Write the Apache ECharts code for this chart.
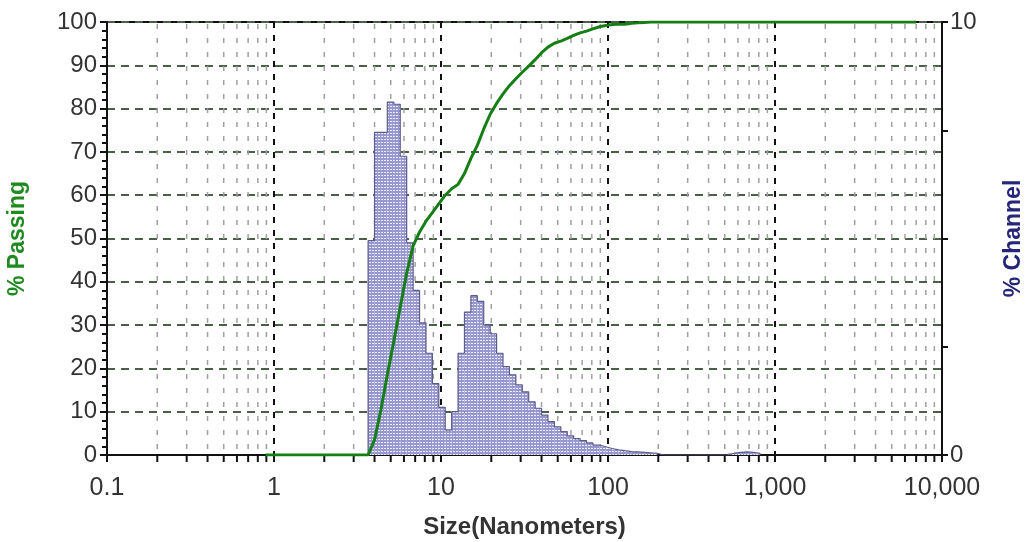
<!DOCTYPE html>
<html>
<head>
<meta charset="utf-8">
<script src="https://cdn.jsdelivr.net/npm/echarts@6/dist/echarts.min.js"></script>
<style>
  html, body { margin: 0; padding: 0; background: #fff; }
  #chart { width: 1026px; height: 542px; }
</style>
</head>
<body>
<div id="chart"></div>
<script>
// ---- data ----
// channel edges (nm): lower edge of each channel, last value = upper edge of last channel
const chanEdges = [3.66, 4.00, 4.37, 4.77, 5.22, 5.70, 6.23, 6.81, 7.44, 8.13, 8.88, 9.70, 10.60, 11.58, 12.65, 13.82, 15.10, 16.50, 18.03, 19.70, 21.52, 23.51, 25.69, 28.07, 30.67, 33.51, 36.62, 40.01, 43.71, 47.76, 52.18, 57.02, 62.30, 68.06, 74.37, 81.26, 88.78, 97.00, 106.0, 115.8, 126.5, 138.3, 151.1, 165.0, 180.3, 197.0, 215.3, 235.2, 257.0, 280.8, 306.8, 335.2, 366.2, 400.2, 437.2, 477.7, 522.0, 570.3, 623.1, 680.8, 743.9, 812.7];
// % in each channel (right axis)
const chanPct = [4.95, 7.45, 7.45, 8.15, 8.1, 6.9, 4.9, 3.8, 3.05, 2.35, 1.65, 1.1, 0.58, 1.0, 2.35, 3.3, 3.68, 3.55, 3.0, 2.8, 2.35, 2.04, 1.85, 1.62, 1.46, 1.23, 1.08, 0.92, 0.77, 0.65, 0.54, 0.44, 0.38, 0.33, 0.28, 0.23, 0.19, 0.15, 0.12, 0.10, 0.08, 0.07, 0.06, 0.05, 0.04, 0, 0, 0, 0, 0, 0, 0, 0, 0, 0, 0, 0.04, 0.06, 0.07, 0.06, 0.04];
// cumulative % passing (left axis)
const passSize = [0.89, 3.66, 4.00, 4.37, 4.77, 5.22, 5.70, 6.23, 6.81, 7.44, 8.13, 8.88, 9.70, 10.60, 11.58, 12.65, 13.82, 15.10, 16.50, 18.03, 19.70, 21.52, 23.51, 25.69, 28.07, 30.67, 33.51, 36.62, 40.01, 43.71, 47.76, 52.18, 57.02, 62.30, 68.06, 74.37, 81.26, 88.78, 97.00, 106.0, 115.8, 126.5, 138.3, 151.1, 165.0, 180.3, 7000];
const passPct = [0, 0, 3.5, 10.5, 18.5, 26.3, 34.2, 42, 48.3, 51.5, 54, 56, 58, 60, 61.5, 62.5, 65, 68.5, 71.5, 75.3, 78.7, 81.2, 83.4, 85.3, 86.9, 88.4, 89.8, 91.3, 92.9, 94.2, 95.1, 95.6, 96.2, 96.9, 97.5, 97.9, 98.4, 98.9, 99.2, 99.4, 99.5, 99.5, 99.7, 99.8, 99.9, 100, 100];
// axis ticks
const xDecades = [0.1, 1, 10, 100, 1000, 10000];
const xTickLabels = ['0.1', '1', '10', '100', '1,000', '10,000'];
const minorMultipliers = [2, 3, 4, 5, 6, 7, 8, 9];
const rightTickLabels = { 0: '0', 10: '10' };

// ---- derived structures ----
const histData = chanPct.map((v, i) => [chanEdges[i], chanEdges[i + 1], v]);
const outlineData = [[chanEdges[0], 0]].concat(chanPct.map((v, i) => [chanEdges[i], v]))
  .concat([[chanEdges[chanEdges.length - 1], 0]]);
const passData = passSize.map((s, i) => [s, passPct[i]]);
const minorData = [];
xDecades.slice(0, -1).forEach(d => minorMultipliers.forEach(m => minorData.push([+(d * m).toPrecision(3), 0])));

// dotted fill pattern
const tile = document.createElement('canvas');
tile.width = 3; tile.height = 3;
const tc = tile.getContext('2d');
tc.fillStyle = 'rgb(150,150,208)'; tc.fillRect(0, 0, 3, 3);
tc.fillStyle = 'rgb(236,236,252)'; tc.fillRect(0, 1, 2, 1);

const FONT = 'Liberation Sans';
const chart = echarts.init(document.getElementById('chart'), null, { renderer: 'canvas' });
chart.setOption({
  animation: false,
  backgroundColor: '#fff',
  grid: { left: 107, right: 84, top: 22, bottom: 87, outerBoundsMode: 'none', containLabel: false, show: true, borderColor: '#111', borderWidth: 2, backgroundColor: 'transparent' },
  xAxis: {
    type: 'log', logBase: 10, min: 0.1, max: 10000,
    name: 'Size(Nanometers)', nameLocation: 'middle', nameGap: 60,
    nameTextStyle: { fontFamily: FONT, fontSize: 24, fontWeight: 'bold', color: '#333' },
    axisLine: { show: true, lineStyle: { color: '#111', width: 2 } },
    axisTick: { show: true, inside: false, length: 7, lineStyle: { color: '#111', width: 2 } },
    axisLabel: {
      margin: 21, fontFamily: FONT, fontSize: 25, color: '#333',
      formatter: v => { const i = xDecades.findIndex(d => Math.abs(Math.log10(d) - Math.log10(v)) < 1e-6); return i >= 0 ? xTickLabels[i] : ''; }
    },
    splitLine: { show: true, lineStyle: { color: '#111', width: 2, type: [6, 7] } }
  },
  yAxis: [
    {
      type: 'value', min: 0, max: 100, interval: 10, position: 'left',
      name: '% Passing', nameLocation: 'middle', nameGap: 78, nameRotate: 90,
      nameTextStyle: { fontFamily: FONT, fontSize: 23, fontWeight: 'bold', color: '#1f8a1f' },
      axisLine: { show: true, lineStyle: { color: '#111', width: 2 } },
      axisTick: { show: true, length: 7, lineStyle: { color: '#111', width: 2 } },
      minorTick: { show: true, splitNumber: 5, length: 5, lineStyle: { color: '#111', width: 2 } },
      axisLabel: { margin: 10, fontFamily: FONT, fontSize: 24, color: '#333' },
      splitLine: { show: true, lineStyle: { color: '#4a5e4a', width: 2, type: [8, 6] } }
    },
    {
      type: 'value', min: 0, max: 10, interval: 2.5, position: 'right',
      name: '% Channel', nameLocation: 'middle', nameGap: 60, nameRotate: 90,
      nameTextStyle: { fontFamily: FONT, fontSize: 23, fontWeight: 'bold', color: '#25257a' },
      axisLine: { show: true, lineStyle: { color: '#111', width: 2 } },
      axisTick: { show: true, length: 6, lineStyle: { color: '#111', width: 2 } },
      axisLabel: { margin: 8, fontFamily: FONT, fontSize: 24, color: '#333', formatter: v => rightTickLabels[v] !== undefined ? rightTickLabels[v] : '' },
      splitLine: { show: false }
    }
  ],
  series: [
    {
      type: 'custom', name: 'minorGrid', xAxisIndex: 0, yAxisIndex: 0, z: 1, clip: false, silent: true,
      data: minorData,
      renderItem: (params, api) => {
        const p = api.coord([api.value(0), 0]);
        const cs = params.coordSys;
        return {
          type: 'group', children: [
            { type: 'line', shape: { x1: p[0], y1: cs.y + 2, x2: p[0], y2: cs.y + cs.height }, style: { stroke: '#a0a0a0', lineWidth: 1.5, lineDash: [5, 9] } },
            { type: 'line', shape: { x1: p[0], y1: cs.y + cs.height, x2: p[0], y2: cs.y + cs.height + 7 }, style: { stroke: '#111', lineWidth: 2 } }
          ]
        };
      }
    },
    {
      type: 'custom', name: 'channel', xAxisIndex: 0, yAxisIndex: 1, z: 2, silent: true,
      data: histData,
      encode: { x: [0, 1], y: 2 },
      renderItem: (params, api) => {
        const p0 = api.coord([api.value(0), api.value(2)]);
        const p1 = api.coord([api.value(1), 0]);
        return { type: 'rect', shape: { x: p0[0], y: p0[1], width: p1[0] - p0[0], height: p1[1] - p0[1] }, style: { fill: { image: tile, repeat: 'repeat' } } };
      }
    },
    {
      type: 'line', name: 'outline', xAxisIndex: 0, yAxisIndex: 1, z: 3, step: 'end', silent: true,
      showSymbol: false, symbol: 'none', data: outlineData,
      lineStyle: { color: '#5c5c8c', width: 1.2 }
    },
    {
      type: 'line', name: 'passing', xAxisIndex: 0, yAxisIndex: 0, z: 4, silent: true,
      showSymbol: false, symbol: 'none', data: passData,
      lineStyle: { color: '#157f15', width: 3 }
    }
  ]
});
</script>
</body>
</html>
